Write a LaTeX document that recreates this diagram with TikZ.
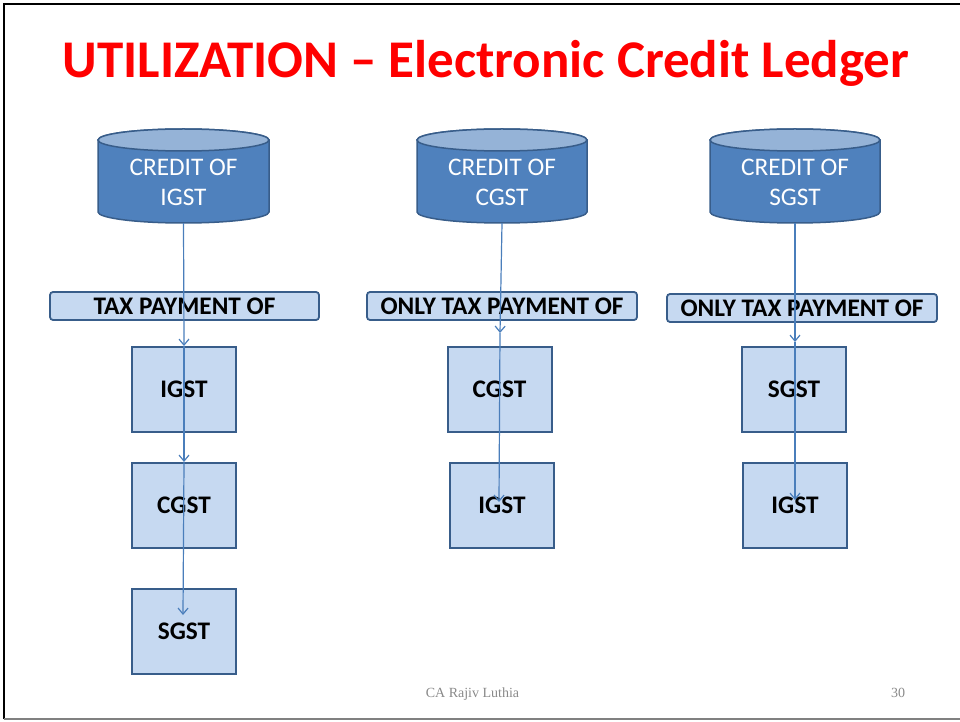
\documentclass[tikz,border=0pt]{standalone}
\usepackage{fontspec}
\setmainfont{Carlito}
\newfontfamily\footfont{Liberation Serif}
\usetikzlibrary{arrows.meta}
\definecolor{cylfill}{RGB}{79,129,189}
\definecolor{cyltop}{RGB}{149,179,215}
\definecolor{bord}{RGB}{56,93,138}
\definecolor{boxfill}{RGB}{198,217,241}
\definecolor{arrowc}{RGB}{74,126,187}
\definecolor{footgray}{RGB}{137,137,137}
\tikzset{
  cylbody/.style={fill=cylfill, draw=bord, line width=1.5pt},
  cyltopst/.style={fill=cyltop, draw=bord, line width=1.5pt},
  cylanchor/.style={rectangle, inner sep=0pt, minimum width=171pt, minimum height=94pt},
  cyltext/.style={text=white, font=\fontsize{25.3}{30}\selectfont, align=center, inner sep=0pt},
  banner/.style={rectangle, rounded corners=3pt, fill=boxfill, draw=bord, line width=1.8pt,
    minimum width=269pt, minimum height=28pt, inner sep=0pt, font=\fontsize{25.3}{28}\selectfont\bfseries},
  taxbox/.style={rectangle, fill=boxfill, draw=bord, line width=2pt,
    minimum width=104pt, minimum height=85pt, inner sep=0pt, font=\fontsize{25.3}{28}\selectfont\bfseries},
  flow/.style={draw=arrowc, line width=1.2pt, -{Straight Barb[length=6pt,width=10pt]}},
}
\begin{document}
\begin{tikzpicture}[x=1pt,y=1pt]
\useasboundingbox (0,0) rectangle (960,721);
% frame
\draw[black, line width=2.5pt] (4,2) -- (4,717) -- (960,717);
\draw[gray, line width=2pt] (4,2) -- (960,2);
% title
\node[anchor=base, text=red, font=\fontsize{53}{60}\selectfont\bfseries, inner sep=0pt] (title) at (486,643) {UTILIZATION – Electronic Credit Ledger};
% cylinders
\foreach \cx/\rx in {183.5/85.5, 502/85, 795/85} {
  \draw[cylbody] (\cx-\rx,581) -- (\cx-\rx,509) arc[start angle=180, end angle=360, x radius=\rx pt, y radius=11pt] -- (\cx+\rx,581) arc[start angle=0, end angle=180, x radius=\rx pt, y radius=11pt] -- cycle;
  \draw[cyltopst] (\cx,581) ellipse[x radius=\rx pt, y radius=11pt];
}
\node[cylanchor] (c1) at (183.5,545) {};
\node[cylanchor] (c2) at (502,545) {};
\node[cylanchor] (c3) at (795,545) {};
\node[cyltext] (c1t) at (183.5,539) {CREDIT OF\\IGST};
\node[cyltext] (c2t) at (502,539) {CREDIT OF\\CGST};
\node[cyltext] (c3t) at (795,539) {CREDIT OF\\SGST};
% banners
\node[banner] (b1) at (184.5,415) {TAX PAYMENT OF};
\node[banner, minimum width=270pt] (b2) at (502,415) {ONLY TAX PAYMENT OF};
\node[banner, minimum width=270pt] (b3) at (802,413) {ONLY TAX PAYMENT OF};
% boxes
\node[taxbox] (k11) at (184,331.5) {IGST};
\node[taxbox] (k12) at (184,215.5) {CGST};
\node[taxbox] (k13) at (184,89.5) {SGST};
\node[taxbox] (k21) at (499.5,331.5) {CGST};
\node[taxbox] (k22) at (502,215.5) {IGST};
\node[taxbox] (k31) at (794,331.5) {SGST};
\node[taxbox] (k32) at (795,215.5) {IGST};
% arrow end points
\coordinate (t13) at (183,106);
\coordinate (t21) at (500,388);
\coordinate (t22) at (499,219);
\coordinate (t31) at (795,379);
\coordinate (t32) at (795,221);
% arrows
\draw[flow] (c1.south) -- (k11.north);
\draw[flow] (k11.north) -- (k12.north);
\draw[flow] (k12.north) -- (t13);
\draw[flow] (c2.south) -- (t21);
\draw[flow] (t21) -- (t22);
\draw[flow] (c3.south) -- (t31);
\draw[flow] (t31) -- (t32);
% footer
\node[anchor=base, text=footgray, font=\footfont\fontsize{14}{16}\selectfont, inner sep=0pt] (foot) at (472.5,24) {CA Rajiv Luthia};
\node[anchor=base, text=footgray, font=\footfont\fontsize{14}{16}\selectfont, inner sep=0pt] (page) at (898,24) {30};
\end{tikzpicture}
\end{document}
